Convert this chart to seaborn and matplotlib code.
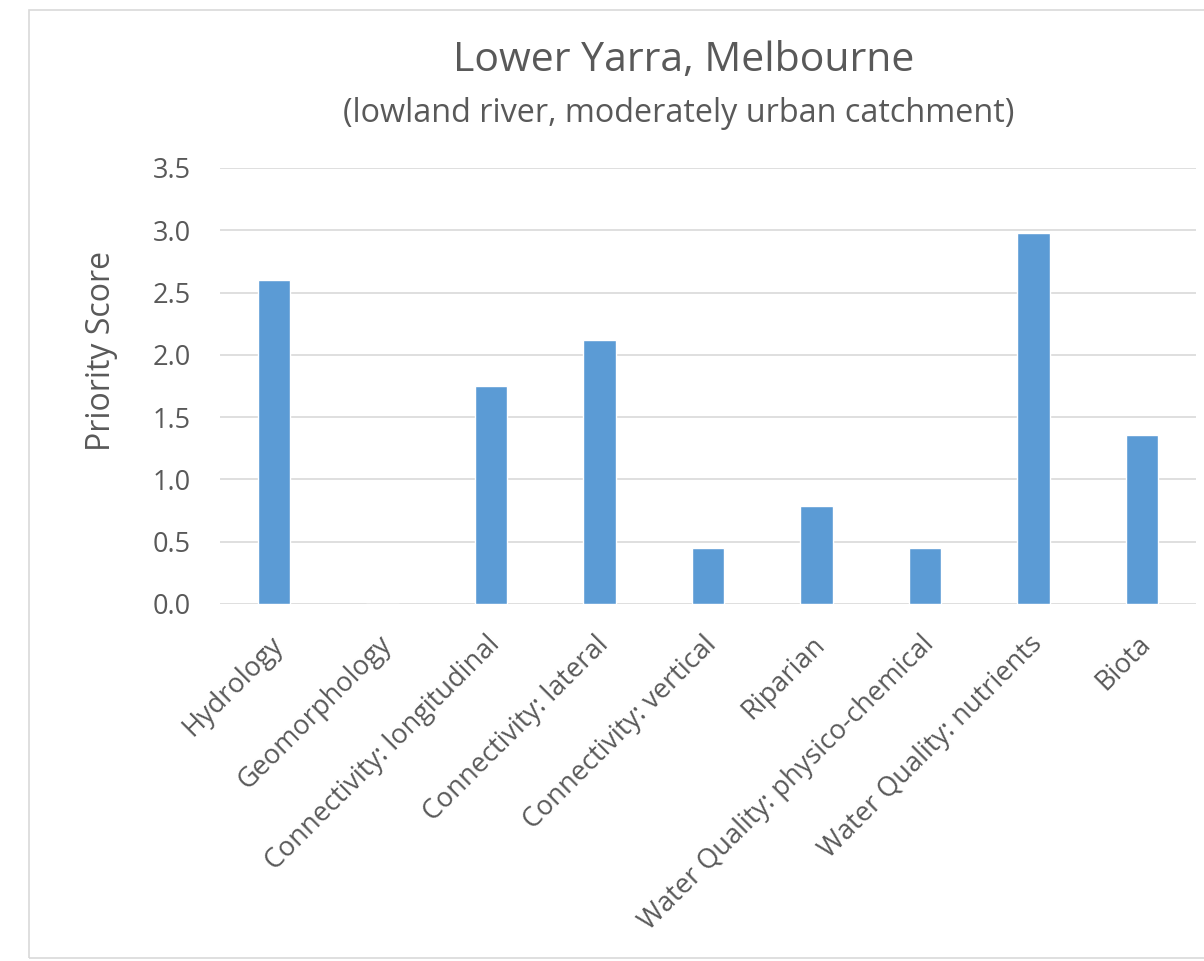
import matplotlib
matplotlib.use("Agg")
import matplotlib.pyplot as plt
import matplotlib.transforms as mtransforms
import seaborn as sns
import pandas as pd
from matplotlib.patches import Rectangle

categorias = ["Hydrology", "Geomorphology", "Connectivity: longitudinal",
              "Connectivity: lateral", "Connectivity: vertical", "Riparian",
              "Water Quality: physico-chemical", "Water Quality: nutrients", "Biota"]
pontuacao = [2.6, 0.0, 1.75, 2.12, 0.45, 0.79, 0.45, 2.98, 1.36]
ticks_y = [0.0, 0.5, 1.0, 1.5, 2.0, 2.5, 3.0, 3.5]

tabela = pd.DataFrame({"categoria": categorias, "pontuacao": pontuacao})

sns.set_style("white")
plt.rcParams["font.family"] = ["Open Sans", "DejaVu Sans"]

cinza = "#595959"
fig = plt.figure(figsize=(12.04, 9.61), dpi=100)

# moldura do grafico (estilo Excel)
fig.patches.append(Rectangle((29 / 1204, 1 - 958 / 961), 1.2, 948 / 961,
                             transform=fig.transFigure, fill=False,
                             edgecolor="#D9D9D9", linewidth=1.2))

ax = fig.add_axes([220 / 1204, 1 - 604 / 961, 976 / 1204, 436 / 961])
sns.barplot(data=tabela, x="categoria", y="pontuacao", color="#5B9BD5",
            saturation=1, width=0.3, ax=ax)

ax.set_ylim(0, 3.5)
ax.set_yticks(ticks_y)
ax.set_yticklabels([f"{v:.1f}" for v in ticks_y])
ax.yaxis.grid(True, color="#D9D9D9", linewidth=1.2)
ax.set_axisbelow(True)
for lado in ["top", "right", "left", "bottom"]:
    ax.spines[lado].set_visible(False)

ax.tick_params(axis="y", length=0, pad=21, labelsize=19.5, labelcolor=cinza)
ax.tick_params(axis="x", length=0, pad=19, labelsize=19.5, labelcolor=cinza)
desloc = mtransforms.ScaledTranslation(-5 / 100, 0, fig.dpi_scale_trans)
for rotulo in ax.get_xticklabels():
    rotulo.set_rotation(45)
    rotulo.set_ha("right")
    rotulo.set_rotation_mode("anchor")
    rotulo.set_transform(rotulo.get_transform() + desloc)

ax.set_xlabel("")
ax.set_ylabel("Priority Score", fontsize=23, color=cinza)
ax.yaxis.set_label_coords(-0.105, 0.58)

fig.text(684 / 1204, 1 - 61 / 961, "Lower Yarra, Melbourne", ha="center",
         va="center", fontsize=29.5, color=cinza)
fig.text(679 / 1204, 1 - 114 / 961, "(lowland river, moderately urban catchment)",
         ha="center", va="center", fontsize=23.3, color=cinza)

plt.savefig("out.png", dpi=100)
